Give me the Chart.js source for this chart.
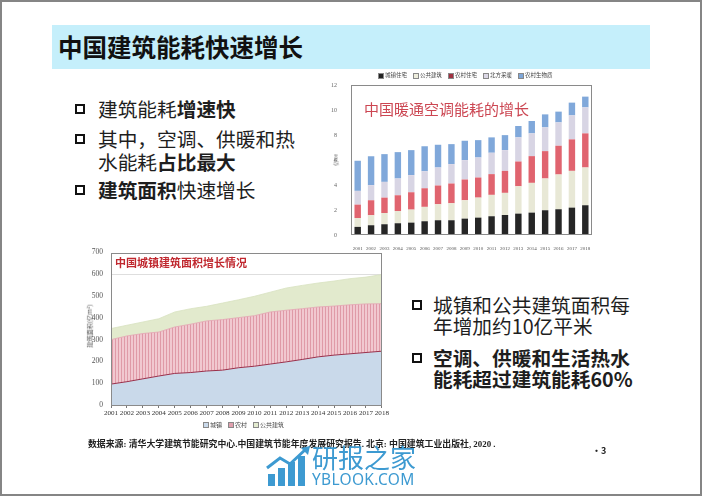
<!DOCTYPE html>
<html><head><meta charset="utf-8">
<script src="https://cdn.jsdelivr.net/npm/chart.js@4"></script>
<style>
html,body{margin:0;padding:0;}
body{width:702px;height:496px;position:relative;overflow:hidden;background:#fff;font-family:"Noto Sans CJK SC","Noto Sans",sans-serif;}
#frame{position:absolute;left:0;top:0;width:698px;height:492px;border:2px solid #858585;}
.abs{position:absolute;white-space:nowrap;line-height:1;}
#titlebar{left:52px;top:25px;width:598px;height:44px;background:#c5effb;}
#title{left:58px;top:35px;font-size:24.5px;font-weight:700;color:#111;}
.bl{font-size:19.7px;color:#1e1e1e;font-weight:400;}
.bl b{font-weight:700;}
.box{position:absolute;width:6px;height:6px;border:2px solid #111;}
.leg{display:flex;align-items:center;font-size:5.5px;color:#444;}
.leg span.sq{display:inline-block;width:4px;height:4px;margin-right:1px;border:0.5px solid #888;}
.leg span.it{display:flex;align-items:center;margin-right:6px;}
</style></head>
<body>
<div id="frame"></div>
<div class="abs" id="titlebar"></div>
<div class="abs" id="title">中国建筑能耗快速增长</div>

<div class="box" style="left:75px;top:104px;"></div>
<div class="abs bl" style="left:98px;top:99px;">建筑能耗<b>增速快</b></div>
<div class="box" style="left:75px;top:134px;"></div>
<div class="abs bl" style="left:98px;top:129px;">其中，空调、供暖和热</div>
<div class="abs bl" style="left:98px;top:152px;">水能耗<b>占比最大</b></div>
<div class="box" style="left:75px;top:185px;"></div>
<div class="abs bl" style="left:98px;top:180px;"><b>建筑面积</b>快速增长</div>

<div class="box" style="left:412px;top:300px;"></div>
<div class="abs bl" style="left:433px;top:295px;">城镇和公共建筑面积每</div>
<div class="abs bl" style="left:433px;top:316px;">年增加约10亿平米</div>
<div class="box" style="left:412px;top:353px;"></div>
<div class="abs bl" style="left:433px;top:348px;font-weight:700;">空调、供暖和生活热水</div>
<div class="abs bl" style="left:433px;top:369px;font-weight:700;">能耗超过建筑能耗60%</div>

<div class="abs" style="left:320px;top:72px;width:280px;height:180px;"><canvas id="c1" width="280" height="180"></canvas></div>
<div class="abs" style="left:85px;top:240px;width:305px;height:195px;"><canvas id="c2" width="305" height="195"></canvas></div>

<div class="abs leg" style="left:378px;top:73px;">
<span class="it"><span class="sq" style="background:#222"></span>城镇住宅</span>
<span class="it"><span class="sq" style="background:#eeeedd"></span>公共建筑</span>
<span class="it"><span class="sq" style="background:#a03040"></span>农村住宅</span>
<span class="it"><span class="sq" style="background:#dcd8e6"></span>北方采暖</span>
<span class="it"><span class="sq" style="background:#7ea6d8"></span>农村生物质</span>
</div>
<div class="abs" style="left:364px;top:101px;font-size:15px;color:#cc4652;">中国暖通空调能耗的增长</div>
<div class="abs" style="left:329px;top:160px;font-size:5px;color:#666;transform:translate(0,-50%) rotate(-90deg);">亿tce</div>

<div class="abs" style="left:115px;top:257px;font-size:11px;font-weight:700;color:#c0282f;">中国城镇建筑面积增长情况</div>
<div class="abs" style="left:90px;top:326px;font-size:6.2px;color:#555;transform:translate(-50%,-50%) rotate(-90deg);">建筑面积(亿m²)</div>
<div class="abs leg" style="left:203px;top:422px;font-size:6px;">
<span class="it"><span class="sq" style="background:#c9d9ea"></span>城镇</span>
<span class="it"><span class="sq" style="background:#e0a0ae"></span>农村</span>
<span class="it"><span class="sq" style="background:#e3ebcf"></span>公共建筑</span>
</div>

<div class="abs" style="left:88px;top:440px;font-size:8.9px;font-weight:700;color:#222;font-family:'Liberation Serif','Noto Sans CJK SC',serif;">数据来源: 清华大学建筑节能研究中心.中国建筑节能年度发展研究报告. 北京: 中国建筑工业出版社, 2020 .</div>
<div class="abs" style="left:592px;top:446px;font-size:9px;font-weight:700;color:#222;">•3</div>

<svg class="abs" style="left:266px;top:446px;" width="46" height="42" viewBox="0 0 46 42">
<rect x="2" y="28" width="7" height="12" fill="#3d9ad1"/>
<rect x="12" y="22" width="7" height="18" fill="#3d9ad1"/>
<rect x="22" y="16" width="7" height="24" fill="#3d9ad1"/>
<rect x="32" y="10" width="7" height="30" fill="#3d9ad1"/>
<polyline points="1,22 14,12 24,18 40,3" fill="none" stroke="#3d9ad1" stroke-width="3"/>
<polygon points="44,0 35,2 42,9" fill="#3d9ad1"/>
</svg>
<div class="abs" style="left:312px;top:444px;font-size:26px;color:#3d9ad1;">研报之家</div>
<div class="abs" style="left:312px;top:472px;font-size:15.5px;color:#3d9ad1;font-family:'Noto Sans','DejaVu Sans',sans-serif;letter-spacing:0.3px;">YBLOOK.COM</div>

<script>
const energyYears = ['2001','2002','2003','2004','2005','2006','2007','2008','2009','2010','2011','2012','2013','2014','2015','2016','2017','2018'];
const urbanRes   = [0.65,0.78,0.86,0.94,0.99,1.10,1.18,1.18,1.31,1.39,1.50,1.60,1.71,1.79,1.98,2.06,2.19,2.38];
const publicBldg = [0.71,0.80,0.90,0.98,1.04,1.15,1.28,1.36,1.47,1.60,1.71,1.77,2.19,2.38,2.54,2.78,2.94,3.02];
const ruralRes   = [1.07,1.20,1.23,1.26,1.39,1.49,1.50,1.58,1.66,1.61,1.66,1.76,1.98,2.14,2.19,2.30,2.52,2.73];
const northHeat  = [1.10,1.20,1.26,1.34,1.37,1.36,1.44,1.55,1.55,1.60,1.71,1.66,1.93,1.82,1.90,1.87,1.92,2.08];
const ruralBio   = [2.41,2.32,2.22,2.11,2.00,2.00,1.82,1.60,1.55,1.39,1.23,1.20,0.91,0.99,1.04,0.86,1.02,0.86];
const energyTicks = [0,2,4,6,8,10,12];

const areaYears  = ['2001','2002','2003','2004','2005','2006','2007','2008','2009','2010','2011','2012','2013','2014','2015','2016','2017','2018'];
const urbanArea  = [96,107,120,133,145,149,156,160,171,178,188,198,209,221,229,235,241,247];
const ruralArea  = [204,210,208,202,213,222,230,232,230,232,239,237,233,229,225,225,223,218];
const publicArea = [51,49,53,61,69,71,67,76,82,89,91,102,107,110,115,120,123,134];
const areaTicks  = [0,100,200,300,400,500,600,700];

const boxPlugin = {id:'box', afterDraw(c, a, o){
  const {ctx, chartArea:ca} = c; ctx.save();
  ctx.strokeStyle = o.color || '#888'; ctx.lineWidth = o.width || 1;
  ctx.strokeRect(Math.round(ca.left)+0.5, Math.round(ca.top)+0.5, Math.round(ca.right-ca.left)-1, Math.round(ca.bottom-ca.top)-1);
  ctx.restore();
}};

const serif = "'Liberation Serif','Times New Roman',serif";

new Chart(document.getElementById('c1'), {
  type:'bar',
  data:{labels:energyYears, datasets:[
    {label:'城镇住宅', data:urbanRes, backgroundColor:'#262626'},
    {label:'公共建筑', data:publicBldg, backgroundColor:'#e8e8d6'},
    {label:'农村住宅', data:ruralRes, backgroundColor:'#e0646f'},
    {label:'北方采暖', data:northHeat, backgroundColor:'#d8d5e4'},
    {label:'农村生物质', data:ruralBio, backgroundColor:'#80a8da'}
  ]},
  options:{
    responsive:false, animation:false,
    layout:{padding:{left:0,top:13,right:8,bottom:0}},
    datasets:{bar:{barPercentage:0.48, categoryPercentage:1, borderWidth:0}},
    plugins:{legend:{display:false}, tooltip:{enabled:false}, box:{color:'#8a8a8a', width:1}},
    scales:{
      x:{stacked:true, grid:{display:false}, border:{display:false},
         ticks:{font:{size:5, family:serif}, color:'#555', autoSkip:false, maxRotation:0, padding:3},
         afterFit(s){s.height=17;}},
      y:{stacked:true, min:0, max:12, grid:{display:false}, border:{display:false},
         afterBuildTicks(s){s.ticks = energyTicks.map(v=>({value:v}));},
         ticks:{font:{size:6, family:serif}, color:'#666', padding:6},
         afterFit(s){s.width=31;}}
    }
  },
  plugins:[boxPlugin]
});

const pc = document.createElement('canvas'); pc.width=3; pc.height=4;
const px = pc.getContext('2d'); px.fillStyle='#f1c8d0'; px.fillRect(0,0,3,4);
px.fillStyle='#df9aa7'; px.fillRect(0,0,1,4);
const pinkPattern = document.getElementById('c2').getContext('2d').createPattern(pc,'repeat');

new Chart(document.getElementById('c2'), {
  type:'line',
  data:{labels:areaYears, datasets:[
    {label:'城镇', data:urbanArea, backgroundColor:'#c9d9ea', borderColor:'#9a2f4a', borderWidth:1, fill:'origin', pointRadius:0, tension:0},
    {label:'农村', data:ruralArea, backgroundColor:pinkPattern, borderColor:'#e2a3b0', borderWidth:0.8, fill:'-1', pointRadius:0, tension:0},
    {label:'公共建筑', data:publicArea, backgroundColor:'#e2eacd', borderColor:'#d8e2c0', borderWidth:0.8, fill:'-1', pointRadius:0, tension:0}
  ]},
  options:{
    responsive:false, animation:false,
    layout:{padding:{left:0,top:12,right:8,bottom:0}},
    plugins:{legend:{display:false}, tooltip:{enabled:false}, box:{color:'#8a8a8a', width:1}},
    scales:{
      x:{grid:{display:true, drawOnChartArea:false, tickLength:3, color:'#777'}, border:{display:false},
         ticks:{font:{size:7.1, family:serif}, color:'#333', autoSkip:false, maxRotation:0, padding:1},
         afterFit(s){s.height=30;}},
      y:{stacked:true, min:0, max:700, border:{display:false},
         grid:{drawTicks:false, color:(ctx)=> ctx.tick && ctx.tick.value===600 ? '#dedede' : 'rgba(0,0,0,0)'},
         afterBuildTicks(s){s.ticks = areaTicks.map(v=>({value:v}));},
         ticks:{font:{size:7.5, family:serif}, color:'#555', padding:8},
         afterFit(s){s.width=26;}}
    }
  },
  plugins:[boxPlugin]
});
</script>
</body></html>
